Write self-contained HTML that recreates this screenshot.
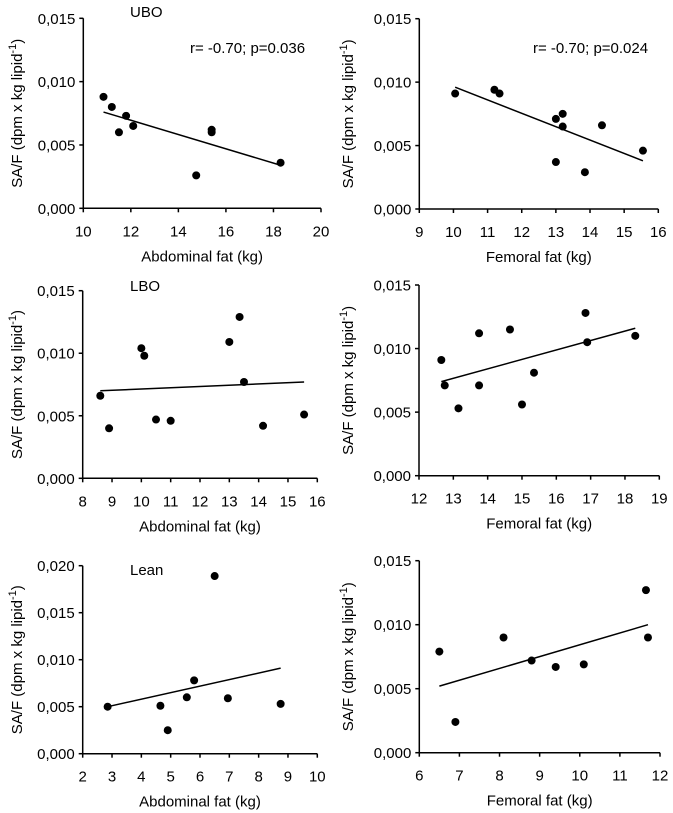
<!DOCTYPE html>
<html><head><meta charset="utf-8"><style>
body{margin:0;background:#fff;}
svg{display:block;font-family:"Liberation Sans",Arial,sans-serif;}
</style></head><body>
<svg id="chart" width="673" height="813"></svg>
<script>
const p1X=[10.85,11.2,11.5,11.8,12.1,14.75,15.4,15.4,18.3];
const p1Y=[0.0088,0.0080,0.0060,0.0073,0.0065,0.0026,0.0062,0.0060,0.0036];
const p1Fit=[[10.85,0.0076],[18.3,0.0034]];
const p2X=[10.05,11.2,11.35,13.0,13.2,13.2,13.0,13.85,14.35,15.55];
const p2Y=[0.0091,0.0094,0.0091,0.0071,0.0075,0.0065,0.0037,0.0029,0.0066,0.0046];
const p2Fit=[[10.05,0.0096],[15.55,0.0038]];
const p3X=[8.6,8.9,10.0,10.1,10.5,11.0,13.0,13.35,13.5,14.15,15.55];
const p3Y=[0.0066,0.0040,0.0104,0.0098,0.0047,0.0046,0.0109,0.0129,0.0077,0.0042,0.0051];
const p3Fit=[[8.6,0.0070],[15.55,0.0077]];
const p4X=[12.65,12.75,13.15,13.75,13.75,14.65,15.0,15.35,16.85,16.9,18.3];
const p4Y=[0.0091,0.0071,0.0053,0.0112,0.0071,0.0115,0.0056,0.0081,0.0128,0.0105,0.0110];
const p4Fit=[[12.65,0.0074],[18.3,0.0116]];
const p5X=[2.85,4.65,4.9,5.55,5.8,6.5,6.95,8.75];
const p5Y=[0.0050,0.0051,0.0025,0.0060,0.0078,0.0189,0.0059,0.0053];
const p5Fit=[[2.85,0.0050],[8.75,0.0091]];
const p6X=[6.5,6.9,8.1,8.8,9.4,10.1,11.65,11.7];
const p6Y=[0.0079,0.0024,0.0090,0.0072,0.0067,0.0069,0.0127,0.0090];
const p6Fit=[[6.5,0.0052],[11.7,0.0100]];
const p1XTicks=[10,12,14,16,18,20];
const p2XTicks=[9,10,11,12,13,14,15,16];
const p3XTicks=[8,9,10,11,12,13,14,15,16];
const p4XTicks=[12,13,14,15,16,17,18,19];
const p5XTicks=[2,3,4,5,6,7,8,9,10];
const p6XTicks=[6,7,8,9,10,11,12];
const yTicks15=[0,0.005,0.010,0.015];
const yTicks20=[0,0.005,0.010,0.015,0.020];

const NS="http://www.w3.org/2000/svg";
const svg=document.getElementById('chart');
function el(tag,attrs,parent){const e=document.createElementNS(NS,tag);for(const k in attrs)e.setAttribute(k,attrs[k]);(parent||svg).appendChild(e);return e;}

const FS=15;
const panels=[
 {id:'ubo-abdominal',xs:p1X,ys:p1Y,fit:p1Fit,xt:p1XTicks,yt:yTicks15,x0:83.3,x1:321,top:18.3,bot:208.3,ytx:17,title:'Abdominal fat (kg)',label:'UBO',lx:130,ly:17,stat:'r= -0.70; p=0.036',sx:190,sy:53},
 {id:'ubo-femoral',xs:p2X,ys:p2Y,fit:p2Fit,xt:p2XTicks,yt:yTicks15,x0:419.3,x1:658.3,top:18.7,bot:209,ytx:348,title:'Femoral fat (kg)',stat:'r= -0.70; p=0.024',sx:533,sy:53},
 {id:'lbo-abdominal',xs:p3X,ys:p3Y,fit:p3Fit,xt:p3XTicks,yt:yTicks15,x0:82.7,x1:317.3,top:290.7,bot:478.3,ytx:17,title:'Abdominal fat (kg)',label:'LBO',lx:130,ly:291},
 {id:'lbo-femoral',xs:p4X,ys:p4Y,fit:p4Fit,xt:p4XTicks,yt:yTicks15,x0:419,x1:659.3,top:285,bot:475.7,ytx:348,title:'Femoral fat (kg)'},
 {id:'lean-abdominal',xs:p5X,ys:p5Y,fit:p5Fit,xt:p5XTicks,yt:yTicks20,x0:82.7,x1:317.3,top:565.7,bot:753.7,ytx:17,title:'Abdominal fat (kg)',label:'Lean',lx:130,ly:575},
 {id:'lean-femoral',xs:p6X,ys:p6Y,fit:p6Fit,xt:p6XTicks,yt:yTicks15,x0:419.3,x1:660,top:560.7,bot:752.7,ytx:348,title:'Femoral fat (kg)'}
];

panels.forEach(p=>{
 const g=el('g',{});
 
 
 const xmin=p.xt[0],xmax=p.xt[p.xt.length-1],ymax=p.yt[p.yt.length-1];
 const sx=v=>p.x0+(v-xmin)/(xmax-xmin)*(p.x1-p.x0);
 const sy=v=>p.bot-(v/ymax)*(p.bot-p.top);
 const ya=el('line',{x1:p.x0,y1:p.top,x2:p.x0,y2:p.bot,stroke:'#000','stroke-width':1.5},g);
 
 
 const xa=el('line',{x1:p.x0,y1:p.bot,x2:p.x1,y2:p.bot,stroke:'#000','stroke-width':1.5},g);
 
 
 p.yt.forEach(v=>{
  const y=sy(v);
  el('line',{x1:p.x0-4,y1:y,x2:p.x0,y2:y,stroke:'#000','stroke-width':1.5},g);
  const t=el('text',{x:p.x0-8,y:y+5.5,'text-anchor':'end','font-size':FS},g);
  t.textContent=v.toFixed(3).replace('.',',');
  
  
 });
 p.xt.forEach(v=>{
  const x=sx(v);
  el('line',{x1:x,y1:p.bot,x2:x,y2:p.bot+4,stroke:'#000','stroke-width':1.5},g);
  const t=el('text',{x:x,y:p.bot+28,'text-anchor':'middle','font-size':FS},g);
  t.textContent=String(v);
  
  
 });
 const xt=el('text',{x:(p.x0+p.x1)/2,y:p.bot+53,'text-anchor':'middle','font-size':FS},g);
 xt.textContent=p.title;
 
 
 const cy=(p.top+p.bot)/2;
 const yt=el('text',{x:0,y:0,'text-anchor':'middle','font-size':FS,transform:'translate('+(p.ytx+5)+','+cy+') rotate(-90)'},g);
 
 
 const a=el('tspan',{},yt);a.textContent='SA/F (dpm x kg lipid';
 const b=el('tspan',{dy:-6,'font-size':11},yt);b.textContent='-1';
 const c=el('tspan',{dy:6},yt);c.textContent=')';
 const fl=el('line',{x1:sx(p.fit[0][0]),y1:sy(p.fit[0][1]),x2:sx(p.fit[1][0]),y2:sy(p.fit[1][1]),stroke:'#000','stroke-width':1.5},g);
 
 
 p.xs.forEach((v,i)=>{
  const d=el('circle',{cx:sx(v),cy:sy(p.ys[i]),r:4,fill:'#000'},g);
  
  
 });
 if(p.label){
  const l=el('text',{x:p.lx,y:p.ly,'font-size':FS},g);
  l.textContent=p.label;
  
  
 }
 if(p.stat){
  const s=el('text',{x:p.sx,y:p.sy,'font-size':FS},g);
  s.textContent=p.stat;
  
  
 }
});
</script>
</body></html>
